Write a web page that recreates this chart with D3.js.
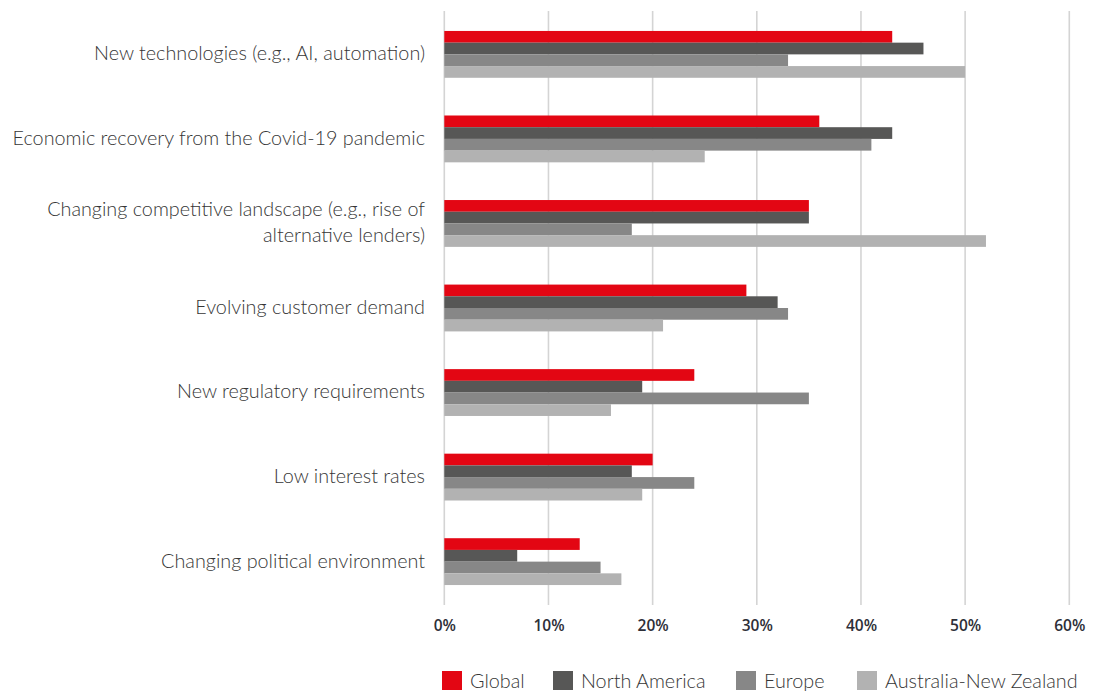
<!DOCTYPE html>
<html>
<head>
<meta charset="utf-8">
<script src="https://cdn.jsdelivr.net/npm/d3@7"></script>
<style>
  html, body { margin: 0; padding: 0; background: #ffffff; }
  svg { display: block; }
</style>
</head>
<body>
<svg id="chart" width="1101" height="692"></svg>
<script>
// Drivers of change, share of respondents by region
const categories = [
  "New technologies (e.g., AI, automation)",
  "Economic recovery from the Covid-19 pandemic",
  "Changing competitive landscape (e.g., rise of|alternative lenders)",
  "Evolving customer demand",
  "New regulatory requirements",
  "Low interest rates",
  "Changing political environment"
];
const seriesNames = ["Global", "North America", "Europe", "Australia-New Zealand"];
const globalValues = [43, 36, 35, 29, 24, 20, 13];
const northAmericaValues = [46, 43, 35, 32, 19, 18, 7];
const europeValues = [33, 41, 18, 33, 35, 24, 15];
const anzValues = [50, 25, 52, 21, 16, 19, 17];
const tickValues = [0, 10, 20, 30, 40, 50, 60];
const seriesColors = ["#e30613", "#575756", "#878787", "#b2b2b2"];

const seriesValues = [globalValues, northAmericaValues, europeValues, anzValues];
const rows = categories.map((c, i) => ({
  category: c,
  values: seriesNames.map((s, j) => ({ series: s, value: seriesValues[j][i] }))
}));

const svg = d3.select("#chart");
const plotTop = 11, plotBottom = 605, plotLeft = 444.3, plotRight = 1069.3;

const x = d3.scaleLinear().domain([0, 60]).range([plotLeft, plotRight]);
const y = d3.scaleBand().domain(categories).range([plotTop, plotBottom])
  .paddingInner(0.446).paddingOuter(0.236);
const ySeries = d3.scaleBand().domain(seriesNames).range([0, y.bandwidth()]);
const color = d3.scaleOrdinal().domain(seriesNames).range(seriesColors);

// vertical gridlines
svg.append("g").attr("class", "grid")
  .selectAll("line").data(tickValues).join("line")
  .attr("x1", d => x(d)).attr("x2", d => x(d))
  .attr("y1", plotTop).attr("y2", plotBottom)
  .attr("stroke", "#d4d4d4").attr("stroke-width", 1.6);

// bars
const groups = svg.append("g").selectAll("g").data(rows).join("g")
  .attr("transform", d => `translate(0,${y(d.category)})`);
groups.selectAll("rect").data(d => d.values).join("rect")
  .attr("x", x(0))
  .attr("y", d => ySeries(d.series))
  .attr("width", d => x(d.value) - x(0))
  .attr("height", ySeries.bandwidth())
  .attr("fill", d => color(d.series));

// x axis tick labels
const xAxis = d3.axisBottom(x).tickValues(tickValues).tickFormat(d => d + "%").tickSize(0).tickPadding(0);
const xg = svg.append("g").attr("transform", `translate(0,${plotBottom})`).call(xAxis);
xg.select(".domain").remove();
xg.selectAll("text")
  .attr("y", 26).attr("dy", 0)
  .attr("font-family", "'Open Sans', sans-serif")
  .attr("font-weight", 600)
  .attr("font-size", 15.5)
  .attr("fill", "#2e2f38");

// category labels
const labelGroup = svg.append("g");
rows.forEach(r => {
  const lines = r.category.split("|");
  const cy = y(r.category) + y.bandwidth() / 2 - 1;
  const lh = 26;
  const t = labelGroup.append("text")
    .attr("text-anchor", "end")
    .attr("font-family", "Lato, sans-serif")
    .attr("font-weight", 300)
    .attr("font-size", 19.8)
    .attr("fill", "#363636");
  lines.forEach((ln, k) => {
    t.append("tspan")
      .attr("x", 425)
      .attr("y", cy + (k - (lines.length - 1) / 2) * lh)
      .attr("dy", "0.35em")
      .text(ln);
  });
});

// legend
const legendX = [442, 553, 736, 857];
const legend = svg.append("g").selectAll("g").data(seriesNames).join("g")
  .attr("transform", (d, i) => `translate(${legendX[i]},671)`);
legend.append("rect").attr("width", 20).attr("height", 19).attr("fill", d => color(d));
legend.append("text")
  .attr("x", 28).attr("y", 10).attr("dy", "0.35em")
  .attr("font-family", "Lato, sans-serif")
  .attr("font-weight", 300)
  .attr("font-size", 19.8)
  .attr("fill", "#363636")
  .text(d => d);
</script>
</body>
</html>
